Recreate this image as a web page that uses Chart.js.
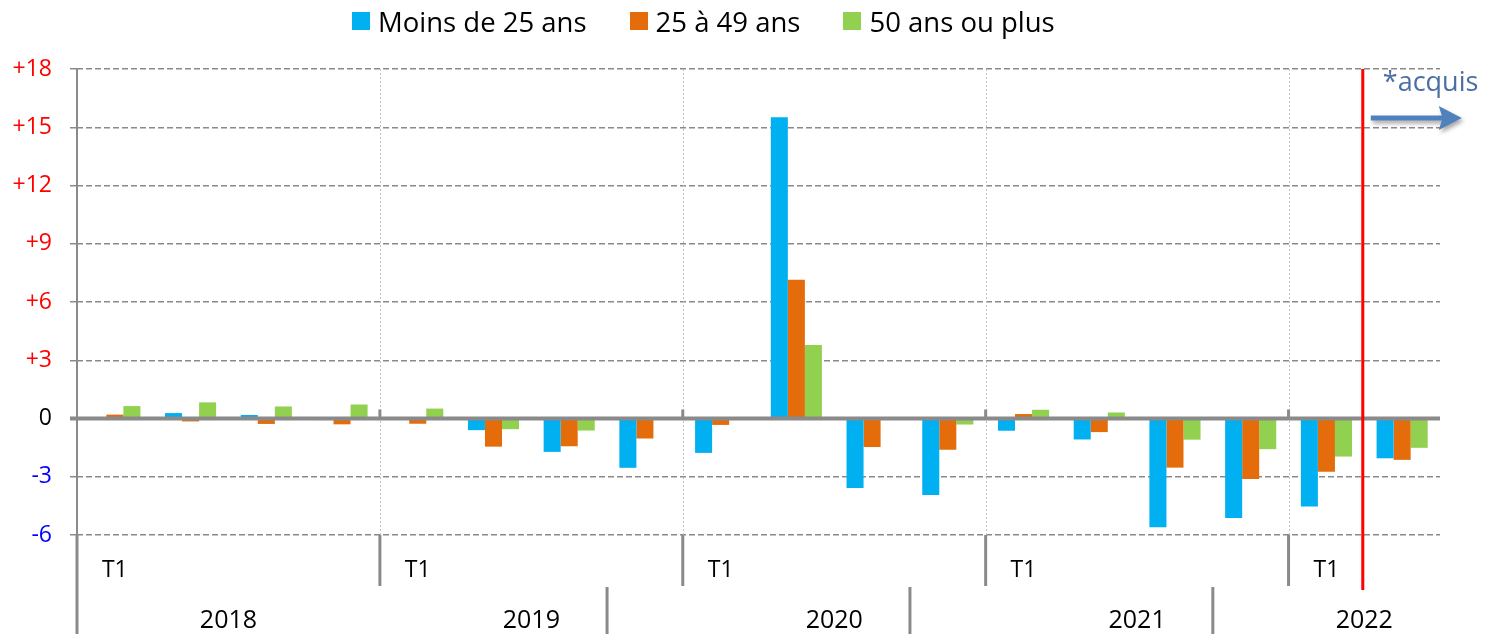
<!DOCTYPE html>
<html>
<head>
<meta charset="utf-8">
<script src="https://cdn.jsdelivr.net/npm/chart.js@4.4.1/dist/chart.umd.min.js"></script>
<style>
  html, body { margin: 0; padding: 0; background: #ffffff; }
  #wrap { position: relative; width: 1492px; height: 634px; overflow: hidden; }
  #chart { position: absolute; left: 0; top: 0; }
  #legend { position: absolute; left: 352px; top: 0px; height: 42px; display: flex; align-items: center; font-family: "Open Sans", sans-serif; font-size: 27.5px; color: #000; white-space: nowrap; }
  #legend .item { display: flex; align-items: center; margin-right: 43px; }
  #legend .box { width: 18px; height: 18px; margin-right: 8px; }
</style>
</head>
<body>
<div id="wrap">
  <canvas id="chart" width="1492" height="634"></canvas>
  <div id="legend"></div>
</div>
<script>
// ---- Data ----
const quarters = ['T1','T2','T3','T4','T1','T2','T3','T4','T1','T2','T3','T4','T1','T2','T3','T4','T1','T2'];
const years = ['2018','2019','2020','2021','2022'];
const yearStarts = [0, 4, 8, 12, 16];
const yearLengths = [4, 4, 4, 4, 2];
const seriesNames = ['Moins de 25 ans', '25 à 49 ans', '50 ans ou plus'];
const seriesColors = ['#00b0f0', '#e46c0a', '#92d050'];
const under25 = [0.03, 0.28, 0.18, -0.08, 0.0, -0.6, -1.72, -2.54, -1.77, 15.52, -3.58, -3.94, -0.63, -1.08, -5.6, -5.13, -4.53, -2.05];
const age25to49 = [0.2, -0.15, -0.28, -0.3, -0.27, -1.45, -1.43, -1.03, -0.33, 7.15, -1.47, -1.61, 0.23, -0.7, -2.53, -3.12, -2.74, -2.13];
const over50 = [0.64, 0.83, 0.62, 0.72, 0.51, -0.55, -0.62, 0.0, 0.06, 3.79, 0.0, -0.31, 0.45, 0.31, -1.09, -1.58, -1.96, -1.51];
const yTicks = [-6, -3, 0, 3, 6, 9, 12, 15, 18];
const acquisText = '*acquis';
const acquisIndex = 17; // first quarter counted as "acquis"

// ---- Legend (HTML) ----
const legendEl = document.getElementById('legend');
seriesNames.forEach((n, i) => {
  const it = document.createElement('div'); it.className = 'item';
  const b = document.createElement('div'); b.className = 'box'; b.style.background = seriesColors[i];
  const t = document.createElement('span'); t.textContent = n;
  it.appendChild(b); it.appendChild(t); legendEl.appendChild(it);
});

const GRID = '#8a8a8a';
const FONT = '"Open Sans", sans-serif';

const overlay = {
  id: 'overlay',
  beforeDatasetsDraw(chart) {
    const { ctx, chartArea: a, scales: { x, y } } = chart;
    const half = (x.getPixelForValue(1) - x.getPixelForValue(0)) / 2;
    ctx.save();
    ctx.strokeStyle = '#c0c0c0';
    ctx.lineWidth = 1;
    ctx.setLineDash([2, 2]);
    yearStarts.slice(1).forEach(s => {
      const bx = Math.round(x.getPixelForValue(s) - half) + 0.5;
      ctx.beginPath(); ctx.moveTo(bx, a.top); ctx.lineTo(bx, a.bottom); ctx.stroke();
    });
    ctx.restore();
  },
  afterDatasetsDraw(chart) {
    const { ctx, chartArea: a, scales: { x, y } } = chart;
    const half = (x.getPixelForValue(1) - x.getPixelForValue(0)) / 2;
    const bnd = i => x.getPixelForValue(i) - half;
    const y0 = y.getPixelForValue(0);
    const H = chart.height;
    ctx.save();
    // zero axis line
    ctx.strokeStyle = GRID;
    ctx.lineWidth = 4;
    ctx.beginPath(); ctx.moveTo(a.left - 7, y0); ctx.lineTo(a.right, y0); ctx.stroke();
    // vertical axis line
    ctx.lineWidth = 2;
    ctx.beginPath(); ctx.moveTo(a.left, a.top); ctx.lineTo(a.left, a.bottom); ctx.stroke();
    ctx.lineWidth = 3;
    ctx.beginPath(); ctx.moveTo(a.left, a.bottom); ctx.lineTo(a.left, H); ctx.stroke();
    // small ticks at zero line on year boundaries + first row separators
    const row1 = a.bottom + 51;
    yearStarts.slice(1).forEach(s => {
      const bx = bnd(s);
      ctx.beginPath(); ctx.moveTo(bx, y0 - 9); ctx.lineTo(bx, y0); ctx.stroke();
      ctx.beginPath(); ctx.moveTo(bx, a.bottom); ctx.lineTo(bx, row1); ctx.stroke();
    });
    // second row separators
    yearStarts.slice(1).forEach(s => {
      const bx = bnd(s + 3);
      ctx.beginPath(); ctx.moveTo(bx, row1 + 1); ctx.lineTo(bx, H); ctx.stroke();
    });
    // quarter labels (only T1)
    ctx.fillStyle = '#000';
    ctx.textAlign = 'center'; ctx.textBaseline = 'middle';
    ctx.font = '23px ' + FONT;
    yearStarts.forEach(s => {
      ctx.fillText(quarters[s], x.getPixelForValue(s), a.bottom + 35);
    });
    // year labels
    ctx.font = '25px ' + FONT;
    years.forEach((yr, i) => {
      const c = (bnd(yearStarts[i]) + bnd(yearStarts[i] + yearLengths[i])) / 2;
      ctx.fillText(yr, c, a.bottom + 86);
    });
    // red separator line
    const rx = bnd(acquisIndex) - 1.5;
    ctx.strokeStyle = '#ff0000';
    ctx.lineWidth = 3;
    ctx.beginPath(); ctx.moveTo(rx, a.top); ctx.lineTo(rx, a.bottom + 55); ctx.stroke();
    // acquis text
    ctx.fillStyle = '#4a6fa5';
    ctx.font = '27px ' + FONT;
    ctx.textAlign = 'left'; ctx.textBaseline = 'alphabetic';
    ctx.fillText(acquisText, rx + 20, a.top + 22);
    // arrow with shadow
    ctx.shadowColor = 'rgba(0,0,0,0.35)';
    ctx.shadowBlur = 4; ctx.shadowOffsetX = 2; ctx.shadowOffsetY = 3;
    ctx.fillStyle = '#4f81bd';
    const ay = a.top + 49;
    ctx.beginPath();
    ctx.moveTo(rx + 8, ay - 2.6);
    ctx.lineTo(rx + 79, ay - 2.6);
    ctx.lineTo(rx + 76, ay - 12);
    ctx.lineTo(rx + 99, ay);
    ctx.lineTo(rx + 76, ay + 12);
    ctx.lineTo(rx + 79, ay + 2.6);
    ctx.lineTo(rx + 8, ay + 2.6);
    ctx.closePath();
    ctx.fill();
    ctx.restore();
  }
};

const datasets = [under25, age25to49, over50].map((d, i) => ({
  label: seriesNames[i],
  data: d,
  backgroundColor: seriesColors[i],
  borderWidth: 0,
  categoryPercentage: 0.675,
  barPercentage: 1.0
}));

new Chart(document.getElementById('chart'), {
  type: 'bar',
  data: { labels: quarters, datasets },
  options: {
    responsive: false,
    animation: false,
    devicePixelRatio: 1,
    layout: { padding: { top: 69, right: 52, bottom: 99, left: 0 } },
    plugins: { legend: { display: false }, tooltip: { enabled: false } },
    scales: {
      x: { display: false, offset: true },
      y: {
        min: -6, max: 18,
        afterFit(scale) { scale.width = 77; },
        afterBuildTicks(scale) { scale.ticks = yTicks.map(v => ({ value: v })); },
        ticks: {
          padding: 18,
          font: { family: FONT, size: 23 },
          color: ctx => ctx.tick.value > 0 ? '#ff0000' : (ctx.tick.value < 0 ? '#0000ff' : '#000000'),
          callback: v => v > 0 ? '+' + v : String(v)
        },
        grid: {
          color: ctx => ctx.tick && ctx.tick.value === 0 ? 'rgba(0,0,0,0)' : GRID,
          lineWidth: 1.5,
          tickLength: 7,
          tickColor: GRID
        },
        border: { display: false, dash: [6, 3] }
      }
    }
  },
  plugins: [overlay]
});
</script>
</body>
</html>
